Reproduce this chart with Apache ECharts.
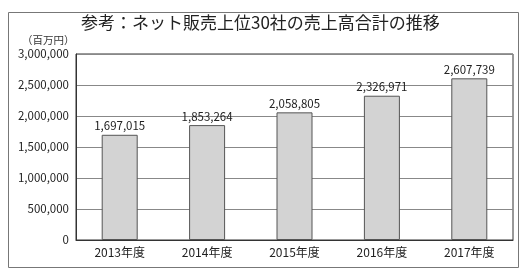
<!DOCTYPE html>
<html><head><meta charset="utf-8">
<script src="https://cdn.jsdelivr.net/npm/echarts@6/dist/echarts.min.js"></script>
<style>html,body{margin:0;padding:0;background:#fff}#c{width:529px;height:276px}</style>
</head><body><div id="c"></div>
<script>
const titleText = "参考：ネット販売上位30社の売上高合計の推移";
const unitText = "（百万円）";
const categories = ["2013年度", "2014年度", "2015年度", "2016年度", "2017年度"];
const salesValues = [1697015, 1853264, 2058805, 2326971, 2607739];
const yTicks = [0, 500000, 1000000, 1500000, 2000000, 2500000, 3000000];

const font = '"Noto Sans CJK JP", "Noto Sans", sans-serif';
const fmt = v => v.toLocaleString('en-US');
const chart = echarts.init(document.getElementById('c'), null, {renderer: 'canvas'});
chart.setOption({
  animation: false,
  backgroundColor: '#fff',
  textStyle: {fontFamily: font},
  graphic: [
    {type: 'rect', shape: {x: 8.5, y: 12.5, width: 510, height: 255},
     style: {fill: 'none', stroke: '#777', lineWidth: 1}, silent: true, z: -1},
    {type: 'text', left: 81, top: 14,
     style: {text: titleText, font: '17px ' + font, fill: '#222'}},
    {type: 'text', left: 22, top: 35,
     style: {text: unitText, font: '10.5px ' + font, fill: '#333'}}
  ],
  grid: {left: 76, right: 16, top: 54, bottom: 36, show: true, borderColor: '#333', borderWidth: 1},
  xAxis: {
    type: 'category', data: categories,
    axisLine: {lineStyle: {color: '#333'}},
    axisTick: {inside: true, length: 3, lineStyle: {color: '#555'}},
    axisLabel: {color: '#222', fontSize: 12, fontFamily: font, margin: 6}
  },
  yAxis: {
    type: 'value', min: yTicks[0], max: yTicks[yTicks.length - 1], interval: 500000,
    axisLine: {show: true, lineStyle: {color: '#333'}},
    axisTick: {show: false},
    splitLine: {lineStyle: {color: '#888'}},
    axisLabel: {color: '#222', fontSize: 11.5, fontFamily: font, margin: 7, formatter: fmt}
  },
  series: [{
    type: 'bar', data: salesValues, barWidth: 36,
    itemStyle: {color: '#d3d3d3', borderColor: '#555', borderWidth: 1},
    label: {show: true, position: 'top', distance: 3, color: '#222', fontSize: 11.5,
            fontFamily: font, formatter: p => fmt(p.value)}
  }]
});
</script></body></html>
